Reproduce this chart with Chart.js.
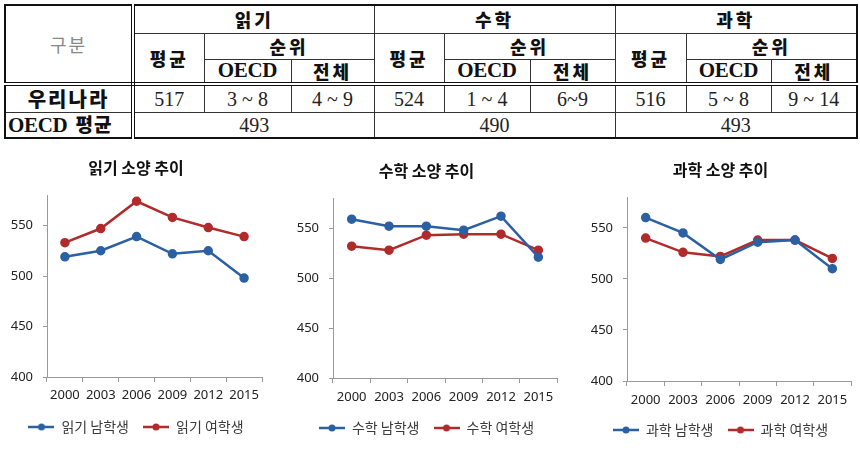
<!DOCTYPE html>
<html lang="ko">
<head>
<meta charset="utf-8">
<script src="https://cdn.jsdelivr.net/npm/chart.js@4"></script>
<style>
  html, body { margin: 0; padding: 0; background: #fff; width: 860px; height: 450px; overflow: hidden; }
  #tbl { position: absolute; left: 4px; top: 4px; border-collapse: collapse; table-layout: fixed; width: 852px; border: 2px solid #111; }
  #tbl td { padding: 0; text-align: center; vertical-align: middle; border: 1px solid #333; line-height: 1; overflow: hidden; white-space: nowrap; }
  .kh { font-family: "Noto Sans CJK KR", sans-serif; font-weight: 900; font-size: 18px; letter-spacing: 3px; color: #111; }
  .gb { font-family: "Noto Sans CJK KR", sans-serif; font-weight: 400; font-size: 18px; letter-spacing: 2px; color: #888; }
  .num { font-family: "Liberation Serif", serif; font-size: 20px; color: #222; }
  .oecd { font-family: "Liberation Serif", serif; font-weight: bold; font-size: 21px; color: #111; letter-spacing: -0.3px; }
  .dblB { border-bottom: 4px double #111 !important; }
  .dblR { border-right: 4px double #111 !important; }
  .box { position: absolute; }
</style>
</head>
<body>
<table id="tbl"></table>
<div class="box" id="b1" style="left:0px; top:148px;"><canvas id="c1" width="285" height="302"></canvas></div>
<div class="box" id="b2" style="left:287px; top:148px;"><canvas id="c2" width="290" height="302"></canvas></div>
<div class="box" id="b3" style="left:580px; top:148px;"><canvas id="c3" width="280" height="302"></canvas></div>
<script>
// ---------- table data ----------
const subjects = ['읽기', '수학', '과학'];
const koreaAverage = ['517', '524', '516'];
const oecdRank = ['3 ~ 8', '1 ~ 4', '5 ~ 8'];
const allRank = ['4 ~ 9', '6~9', '9 ~ 14'];
const oecdAverage = ['493', '490', '493'];

// ---------- chart data ----------
const years = ['2000', '2003', '2006', '2009', '2012', '2015'];
const readingBoys  = [519, 525, 539, 522, 525, 498];
const readingGirls = [533, 547, 574, 558, 548, 539];
const mathBoys     = [559, 552, 552, 548, 562, 521];
const mathGirls    = [532, 528, 543, 544, 544, 528];
const scienceBoys  = [560, 545, 519, 536, 538, 510];
const scienceGirls = [540, 526, 522, 538, 538, 520];
const yTickValues  = [400, 450, 500, 550];
const chartTitles  = ['읽기 소양 추이', '수학 소양 추이', '과학 소양 추이'];

// ---------- build table ----------
const colW = [128, 71, 87, 83, 70, 86, 85, 71, 85, 86];
(function buildTable() {
  const t = document.getElementById('tbl');
  let h = '<colgroup>' + colW.map(w => `<col style="width:${w}px">`).join('') + '</colgroup>';
  h += '<tr style="height:28px"><td rowspan="3" class="gb dblB dblR">구분</td>' +
       subjects.map(s => `<td colspan="3" class="kh">${s}</td>`).join('') + '</tr>';
  h += '<tr style="height:26px">' + subjects.map(() => '<td rowspan="2" class="kh dblB">평균</td><td colspan="2" class="kh">순위</td>').join('') + '</tr>';
  h += '<tr style="height:25px">' + subjects.map(() => '<td class="oecd dblB">OECD</td><td class="kh dblB">전체</td>').join('') + '</tr>';
  h += '<tr style="height:28px"><td class="kh dblR" style="font-size:20px;letter-spacing:2px">우리나라</td>' +
       subjects.map((s, i) => `<td class="num">${koreaAverage[i]}</td><td class="num">${oecdRank[i]}</td><td class="num">${allRank[i]}</td>`).join('') + '</tr>';
  h += '<tr style="height:26px"><td class="dblR" style="text-align:left;padding-left:2px"><span class="oecd">OECD</span>&nbsp; <span class="kh" style="font-size:19px;letter-spacing:1px">평균</span></td>' +
       subjects.map((s, i) => `<td colspan="3" class="num">${oecdAverage[i]}</td>`).join('') + '</tr>';
  t.innerHTML = h;
})();

// ---------- charts ----------
const BLUE = '#2b61a3';
const RED = '#b22b2b';

function legendIcon(color) {
  const c = document.createElement('canvas');
  c.width = 26; c.height = 10;
  const x = c.getContext('2d');
  x.strokeStyle = color; x.lineWidth = 2.5;
  x.beginPath(); x.moveTo(0, 5); x.lineTo(26, 5); x.stroke();
  x.fillStyle = color;
  x.beginPath(); x.arc(13, 5, 3.5, 0, Math.PI * 2); x.fill();
  return c;
}
const blueIcon = legendIcon(BLUE);
const redIcon = legendIcon(RED);

function makeChart(id, title, boyLabel, girlLabel, boys, girls, pad, xAxisH, xTickPad) {
  const ds = (label, data, color, icon) => ({
    label, data, borderColor: color, backgroundColor: color,
    borderWidth: 2.5, pointRadius: 3.5, pointHoverRadius: 3.5,
    pointBackgroundColor: color, pointBorderColor: color, pointStyle: 'circle',
    tension: 0, fill: false, _icon: icon
  });
  return new Chart(document.getElementById(id), {
    type: 'line',
    data: { labels: years, datasets: [ds(boyLabel, boys, BLUE, blueIcon), ds(girlLabel, girls, RED, redIcon)] },
    options: {
      responsive: false, animation: false, devicePixelRatio: 1,
      layout: { padding: pad },
      plugins: {
        tooltip: { enabled: false },
        title: {
          display: true, text: title, color: '#111',
          font: { family: '"Noto Sans CJK KR", sans-serif', size: 16, weight: 'bold' },
          padding: { top: 10, bottom: 18 }
        },
        legend: {
          position: 'bottom',
          labels: {
            usePointStyle: true, pointStyleWidth: 26, padding: 14,
            color: '#3a3a3a',
            font: { family: '"Noto Sans CJK KR", sans-serif', size: 14 },
            generateLabels: (chart) => chart.data.datasets.map((d, i) => ({
              text: d.label, pointStyle: d._icon, fillStyle: d.borderColor,
              strokeStyle: d.borderColor, lineWidth: 0, hidden: false, datasetIndex: i,
              fontColor: '#3a3a3a'
            }))
          }
        }
      },
      scales: {
        x: {
          offset: true,
          grid: { offset: true, drawOnChartArea: false, drawTicks: true, tickLength: 5, color: '#9a9a9a' },
          border: { color: '#9a9a9a', width: 1 },
          ticks: { color: '#222', font: { family: '"Noto Sans", sans-serif', size: 13 }, maxRotation: 0, autoSkip: false, padding: xTickPad },
          afterFit: s => { s.height = xAxisH; }
        },
        y: {
          min: 400, max: 580,
          afterBuildTicks: s => { s.ticks = yTickValues.map(v => ({ value: v })); },
          grid: { drawOnChartArea: false, drawTicks: true, tickLength: 4, color: '#9a9a9a' },
          border: { color: '#9a9a9a', width: 1 },
          ticks: { color: '#222', font: { family: '"Noto Sans", sans-serif', size: 13 }, padding: 10 },
          afterFit: s => { s.width = 37; }
        }
      }
    }
  });
}

makeChart('c1', chartTitles[0], '읽기 남학생', '읽기 여학생', readingBoys, readingGirls, { left: 10, right: 23, top: 0, bottom: 6 }, 29, 5);
makeChart('c2', chartTitles[1], '수학 남학생', '수학 여학생', mathBoys, mathGirls, { left: 9, right: 20, top: 3, bottom: 5 }, 29, 6);
makeChart('c3', chartTitles[2], '과학 남학생', '과학 여학생', scienceBoys, scienceGirls, { left: 10, right: 9, top: 2, bottom: 3 }, 28, 6);
</script>
</body>
</html>
